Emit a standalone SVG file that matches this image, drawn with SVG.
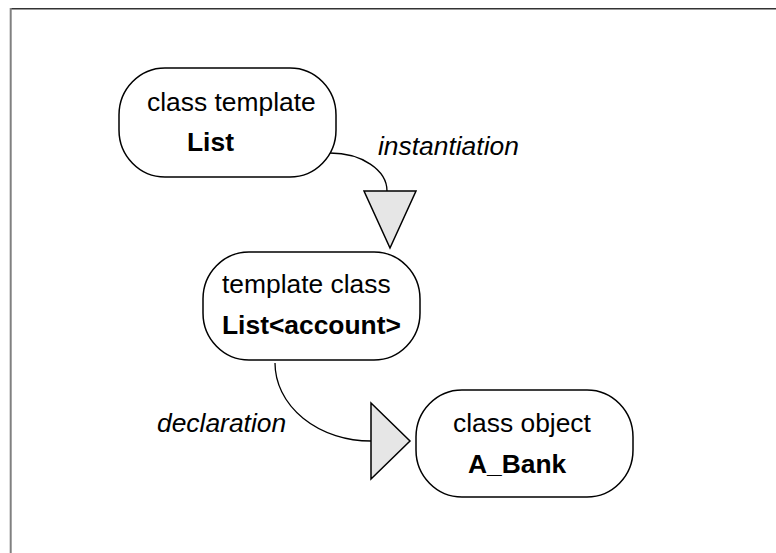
<svg xmlns="http://www.w3.org/2000/svg" width="776" height="553" viewBox="0 0 776 553">
  <style>
    .node { fill: #ffffff; stroke: #000000; stroke-width: 1.5; }
    .txt { font-family: "Liberation Sans", Arial, sans-serif; font-size: 26.4px; fill: #000000; }
    .bold { font-weight: bold; }
    .label { font-family: "Liberation Sans", Arial, sans-serif; font-size: 26.4px; font-style: italic; fill: #000000; }
    .conn { fill: none; stroke: #000000; stroke-width: 1.3; }
    .head { fill: #e6e6e6; stroke: #000000; stroke-width: 1.5; stroke-linejoin: miter; }
  </style>
  <rect width="776" height="553" fill="#ffffff"/>
  <!-- page frame -->
  <line x1="10" y1="8.7" x2="776" y2="8.7" stroke="#333333" stroke-width="1.6"/>
  <line x1="10.7" y1="8" x2="10.7" y2="553" stroke="#808080" stroke-width="2"/>

  <g id="connectors">
    <path class="conn" d="M330,153 A57,38 0 0 1 387,191"/>
    <polygon class="head" points="364,191 416,191 390,248"/>
    <path class="conn" d="M275,363 A96,78 0 0 0 371,441"/>
    <polygon class="head" points="371,403 371,479 410,441"/>
  </g>

  <g id="node-class-template">
    <rect class="node" x="119" y="68" width="217" height="109" rx="46" ry="47"/>
    <text class="txt" x="147" y="111">class template</text>
    <text class="txt bold" x="187" y="151">List</text>
  </g>

  <g id="node-template-class">
    <rect class="node" x="203" y="252" width="217" height="108" rx="46" ry="47"/>
    <text class="txt" x="222" y="293">template class</text>
    <text class="txt bold" x="222" y="334">List&lt;account&gt;</text>
  </g>

  <g id="node-class-object">
    <rect class="node" x="416" y="390" width="217" height="107" rx="46" ry="47"/>
    <text class="txt" x="453" y="432">class object</text>
    <text class="txt bold" x="468" y="473">A_Bank</text>
  </g>

  <g id="labels">
    <text class="label" x="378" y="155">instantiation</text>
    <text class="label" x="157" y="432">declaration</text>
  </g>
</svg>
